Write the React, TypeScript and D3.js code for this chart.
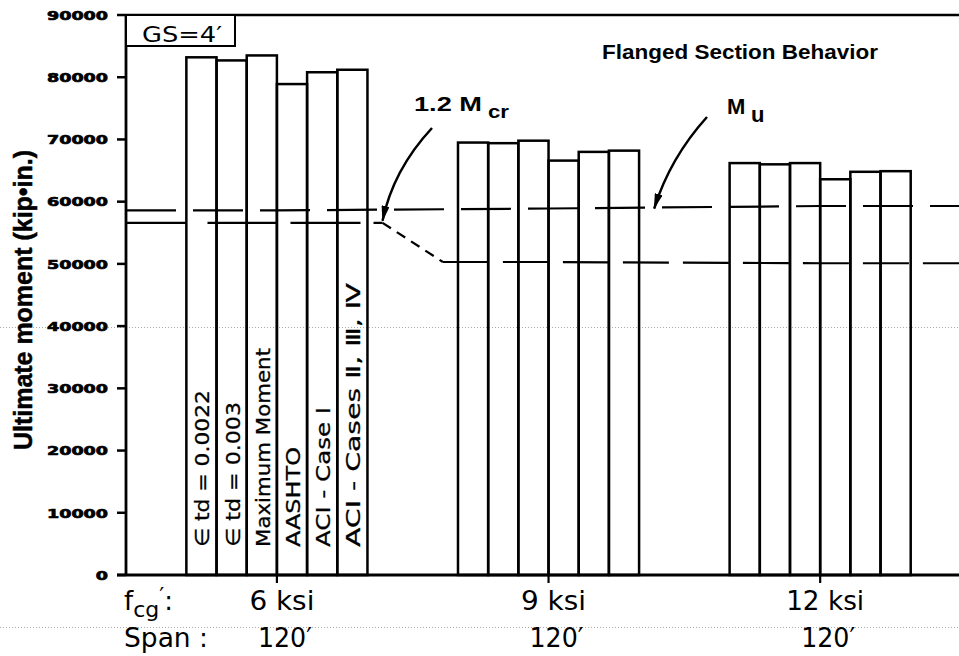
import * as d3 from 'd3'

// values (kip-in.)
const strengths = ['6 ksi', '9 ksi', '12 ksi']
const spans = ['120′', '120′', '120′']
const methods = [
  '∈ td = 0.0022',
  '∈ td = 0.003',
  'Maximum Moment',
  'AASHTO',
  'ACI - Case Ⅰ',
  'ACI - Cases Ⅱ, Ⅲ, Ⅳ',
]
const moments6 = [83200, 82700, 83500, 78900, 80800, 81200]
const moments9 = [69500, 69400, 69800, 66600, 68000, 68200]
const moments12 = [66200, 66000, 66200, 63600, 64800, 64900]
const muValues = [58600, 58900, 59300]
const mcrValues = [56600, 50300, 50100]
const yTicks = [0, 10000, 20000, 30000, 40000, 50000, 60000, 70000, 80000, 90000]

const groupMoments = [moments6, moments9, moments12]

// label lengths (layout only)
const methodLabelLen = [157, 145, 199, 100, 140, 264]

const W = 959
const H = 656

export default function App() {
  const y = d3.scaleLinear().domain([0, 90000]).range([575, 15])
  const x = d3.scaleLinear().domain([0, 27.6]).range([126, 959])
  const xMax = x.domain()[1]
  const unit = x(1) - x(0)

  const lead = 2 // empty slots before first group
  const gap = 3 // empty slots between groups
  const n = methods.length
  const start = (g: number) => lead + g * (n + gap)
  const mid = (g: number) => start(g) + n / 2
  const end = (g: number) => start(g) + n

  const line = d3
    .line<[number, number]>()
    .x((d) => x(d[0]))
    .y((d) => y(d[1]))

  const muPts: [number, number][] = [
    [0, muValues[0]],
    [mid(0), muValues[0]],
    [mid(1), muValues[1]],
    [mid(2), muValues[2]],
    [xMax, muValues[2]],
  ]
  const mcrSolid: [number, number][] = [
    [0, mcrValues[0]],
    [start(0), mcrValues[0]],
  ]
  const mcrA: [number, number][] = [
    [start(0) + 0.7, mcrValues[0]],
    [end(0) + 0.5, mcrValues[0]],
  ]
  const mcrB: [number, number][] = [
    [end(0) + 0.5, mcrValues[0]],
    [start(1) - 0.5, mcrValues[1]],
  ]
  const mcrC: [number, number][] = [
    [start(1) - 0.5, mcrValues[1]],
    [mid(1), mcrValues[1]],
    [mid(2), mcrValues[2]],
    [xMax, mcrValues[2]],
  ]

  const mcrTip = [x(end(0) + 0.5), y(mcrValues[0]) - 2]
  const muTip = [x(end(1) + 0.5), y(muValues[1])]

  const plotter = '"DejaVu Sans", sans-serif'
  const heavy = '"Liberation Sans", Arial, sans-serif'

  return (
    <svg
      width={W}
      height={H}
      style={{ position: 'absolute', left: 0, top: 0, background: '#fff' }}
    >
      <defs>
        <marker
          id="head"
          markerUnits="userSpaceOnUse"
          markerWidth={16}
          markerHeight={8}
          refX={15}
          refY={4}
          orient="auto"
        >
          <path d="M0,0 L16,4 L0,8 Z" fill="#000" />
        </marker>
      </defs>

      {/* faint scan artefacts */}
      <line x1={0} x2={W} y1={327.5} y2={327.5} stroke="#aaa" strokeDasharray="1 2" />
      <line x1={0} x2={W} y1={627.5} y2={627.5} stroke="#aaa" strokeDasharray="1 2" />

      {/* frame */}
      <line x1={x(0)} x2={W} y1={y(90000)} y2={y(90000)} stroke="#000" strokeWidth={2.5} />
      <line x1={x(0)} x2={x(0)} y1={y(90000)} y2={y(0)} stroke="#000" strokeWidth={2.8} />

      {/* y ticks */}
      {yTicks.map((t) => (
        <g key={t}>
          <line x1={x(0) - 9} x2={x(0)} y1={y(t)} y2={y(t)} stroke="#000" strokeWidth={2.5} />
          <text
            x={108}
            y={y(t) + 4.8}
            textAnchor="end"
            fontFamily={plotter}
            fontWeight="bold"
            fontSize={13}
            stroke="#000"
            strokeWidth={0.7}
            textLength={String(t).length * 12.2}
            lengthAdjust="spacingAndGlyphs"
          >
            {t}
          </text>
        </g>
      ))}
      <text
        transform="translate(32,300) rotate(-90)"
        textAnchor="middle"
        fontFamily={heavy}
        fontWeight="bold"
        fontSize={25}
        stroke="#000"
        strokeWidth={0.5}
        textLength={300}
        lengthAdjust="spacingAndGlyphs"
      >
        Ultimate moment (kip•in.)
      </text>

      {/* GS box */}
      <rect
        x={x(0)}
        y={y(90000)}
        width={109}
        height={31}
        fill="#fff"
        stroke="#000"
        strokeWidth={2}
      />
      <text
        x={142}
        y={42}
        fontFamily={plotter}
        fontSize={22}
        textLength={80}
        lengthAdjust="spacingAndGlyphs"
      >
        GS=4′
      </text>

      <text
        x={602}
        y={59}
        fontFamily={heavy}
        fontWeight="bold"
        fontSize={21}
        textLength={276}
        lengthAdjust="spacingAndGlyphs"
      >
        Flanged Section Behavior
      </text>

      {/* bars */}
      {groupMoments.map((vals, g) =>
        vals.map((v, i) => (
          <rect
            key={`${g}-${i}`}
            x={x(start(g) + i)}
            y={y(v)}
            width={unit}
            height={y(0) - y(v)}
            fill="none"
            stroke="#000"
            strokeWidth={2.5}
          />
        ))
      )}

      {/* method labels in first group */}
      {methods.map((m, i) => {
        const cx = x(start(0) + i + 0.5) + 1
        const by = y(4500)
        return (
          <text
            key={m}
            x={cx}
            y={by}
            transform={`rotate(-90,${cx},${by})`}
            dominantBaseline="central"
            fontFamily={plotter}
            fontSize={20}
            stroke="#000"
            strokeWidth={0.3}
            textLength={methodLabelLen[i]}
            lengthAdjust="spacingAndGlyphs"
          >
            {m}
          </text>
        )
      })}

      {/* reference lines */}
      <path d={line(muPts) || undefined} fill="none" stroke="#000" strokeWidth={2.2} strokeDasharray="50 17" />
      <path d={line(mcrSolid) || undefined} fill="none" stroke="#000" strokeWidth={2.2} />
      <path d={line(mcrA) || undefined} fill="none" stroke="#000" strokeWidth={2.2} strokeDasharray="70 13" />
      <path d={line(mcrB) || undefined} fill="none" stroke="#000" strokeWidth={2.2} strokeDasharray="10 7" />
      <path d={line(mcrC) || undefined} fill="none" stroke="#000" strokeWidth={2.2} strokeDasharray="46 14" />

      {/* base line and group ticks */}
      <line x1={x(0) - 9} x2={W} y1={y(0)} y2={y(0)} stroke="#000" strokeWidth={3} />
      {strengths.map((s, g) => (
        <g key={s}>
          <line x1={x(mid(g))} x2={x(mid(g))} y1={y(0)} y2={y(0) + 8} stroke="#000" strokeWidth={2.2} />
          <text
            x={x(mid(g)) + 5}
            y={610}
            textAnchor="middle"
            fontFamily={plotter}
            fontSize={26}
            textLength={s.length * 13}
            lengthAdjust="spacingAndGlyphs"
          >
            {s}
          </text>
          <text
            x={x(mid(g)) + 8}
            y={647}
            textAnchor="middle"
            fontFamily={plotter}
            fontSize={26}
            textLength={54}
            lengthAdjust="spacingAndGlyphs"
          >
            {spans[g]}
          </text>
        </g>
      ))}

      {/* row captions */}
      <text x={124} y={610} fontFamily={plotter} fontSize={26}>
        f
        <tspan dy={7} fontSize={22}>
          cg
        </tspan>
        <tspan dy={-14} fontSize={22}>
          ′
        </tspan>
        <tspan dy={7}>:</tspan>
      </text>
      <text
        x={124}
        y={647}
        fontFamily={plotter}
        fontSize={26}
        textLength={84}
        lengthAdjust="spacingAndGlyphs"
      >
        Span :
      </text>

      {/* annotations */}
      <path
        d={`M432,128 Q393,170 ${mcrTip[0]},${mcrTip[1]}`}
        fill="none"
        stroke="#000"
        strokeWidth={2.5}
        markerEnd="url(#head)"
      />
      <text
        x={414}
        y={111}
        fontFamily={heavy}
        fontWeight="bold"
        fontSize={20}
        textLength={68}
        lengthAdjust="spacingAndGlyphs"
      >
        1.2 M
      </text>
      <text
        x={488}
        y={118}
        fontFamily={heavy}
        fontWeight="bold"
        fontSize={19}
        textLength={21}
        lengthAdjust="spacingAndGlyphs"
      >
        cr
      </text>

      <path
        d={`M707,117 Q670,158 ${muTip[0]},${muTip[1]}`}
        fill="none"
        stroke="#000"
        strokeWidth={2.5}
        markerEnd="url(#head)"
      />
      <text x={727} y={114} fontFamily={heavy} fontWeight="bold" fontSize={22}>
        M
      </text>
      <text x={751} y={122} fontFamily={heavy} fontWeight="bold" fontSize={22}>
        u
      </text>
    </svg>
  )
}
